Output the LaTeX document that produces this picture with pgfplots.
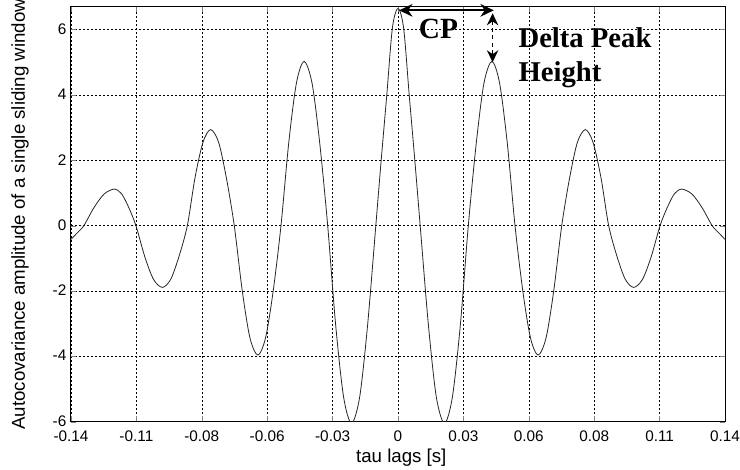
\documentclass[border=0pt]{standalone}
\usepackage{pgfplots}
\pgfplotsset{compat=1.18}
\usepackage{fontspec}
\setmainfont{Liberation Sans}
\newfontfamily\timesfont{Liberation Serif}
\usetikzlibrary{arrows.meta}

\begin{document}
\begin{tikzpicture}
\begin{axis}[
  at={(0,0)}, anchor=south west,
  scale only axis,
  width=490.5pt, height=311.25pt,
  xmin=-0.14, xmax=0.14,
  ymin=-6, ymax=6.7,
  xtick={-0.14,-0.112,-0.084,-0.056,-0.028,0,0.028,0.056,0.084,0.112,0.14},
  xticklabels={-0.14,-0.11,-0.08,-0.06,-0.03,0,0.03,0.06,0.08,0.11,0.14},
  ytick={-6,-4,-2,0,2,4,6},
  /pgf/number format/assume math mode=true,
  tick label style={font=\fontsize{11.5}{13}\selectfont},
  xticklabel style={yshift=-3pt},
  yticklabel style={yshift=0.5pt},
  tick align=inside,
  major tick length=4pt,
  axis line style={line width=0.75pt},
  grid=major,
  major grid style={black, line width=0.45pt, dash pattern=on 1.2pt off 1.8pt},
  xlabel={tau lags [s]},
  ylabel={Autocovariance amplitude of a single sliding window},
  label style={font=\fontsize{14}{16}\selectfont},
  xlabel style={at={(axis description cs:0.505,-0.087)}, anchor=center},
  ylabel style={at={(axis description cs:-0.078,0.5)}, anchor=center},
  clip mode=individual,
]
\addplot[black!85, line width=0.6pt, smooth] coordinates {
(-0.1400,-0.42) (-0.1372,-0.21) (-0.1345,0.00) (-0.1301,0.56) (-0.1258,0.97)
(-0.1214,1.12) (-0.1183,0.97) (-0.1153,0.56) (-0.1122,0.00)
(-0.1084,-0.95) (-0.1047,-1.64) (-0.1009,-1.89) (-0.0973,-1.64) (-0.0938,-0.95)
(-0.0902,0.00) (-0.0869,1.47) (-0.0835,2.55) (-0.0802,2.94) (-0.0768,2.55)
(-0.0735,1.47) (-0.0701,0.00) (-0.0667,-1.98) (-0.0634,-3.43) (-0.0600,-3.96)
(-0.0567,-3.43) (-0.0534,-1.98) (-0.0501,0.00) (-0.0468,2.52) (-0.0435,4.36)
(-0.0402,5.03) (-0.0368,4.36) (-0.0335,2.52) (-0.0301,0.00) (-0.0267,-3.03)
(-0.0233,-5.24) (-0.0199,-6.05) (-0.0164,-5.24) (-0.0130,-3.03) (-0.0095,0.00)
(-0.0072,2.00) (-0.0048,4.00) (-0.0024,6.05)
(0.0000,6.65)
(0.0024,6.05) (0.0048,4.00) (0.0072,2.00) (0.0095,0.00)
(0.0130,-3.03) (0.0164,-5.24) (0.0199,-6.05) (0.0233,-5.24) (0.0267,-3.03)
(0.0301,0.00) (0.0335,2.52) (0.0368,4.36) (0.0402,5.03) (0.0435,4.36)
(0.0468,2.52) (0.0501,0.00) (0.0534,-1.98) (0.0567,-3.43) (0.0600,-3.96)
(0.0634,-3.43) (0.0667,-1.98) (0.0701,0.00) (0.0735,1.47) (0.0768,2.55)
(0.0802,2.94) (0.0835,2.55) (0.0869,1.47) (0.0902,0.00) (0.0938,-0.95)
(0.0973,-1.64) (0.1009,-1.89) (0.1047,-1.64) (0.1084,-0.95) (0.1122,0.00)
(0.1153,0.56) (0.1183,0.97) (0.1214,1.12) (0.1258,0.97) (0.1301,0.56)
(0.1345,0.00) (0.1372,-0.21) (0.1400,-0.42)
};
% annotations
\draw[line width=1.4pt, {Stealth[length=10pt,width=9.5pt]}-{Stealth[length=10pt,width=9.5pt]}]
  (axis cs:0.0005,6.59) -- (axis cs:0.0410,6.59);
\draw[line width=1.2pt, dash pattern=on 3pt off 2.5pt,
  {Stealth[length=9pt,width=8.5pt]}-{Stealth[length=9pt,width=8.5pt]}]
  (axis cs:0.0405,6.5) -- (axis cs:0.0405,5.0);
\node[anchor=base, inner sep=0pt, font=\timesfont\bfseries\fontsize{22}{24}\selectfont]
  at (axis cs:0.0173,5.72) {CP};
\node[anchor=north west, inner sep=0pt, align=left,
  font=\timesfont\bfseries\fontsize{21.5}{25.5}\selectfont]
  at (axis cs:0.0515,6.08) {Delta Peak\\Height};
\end{axis}
\pgfresetboundingbox
\path (-53.25pt,-36.2pt) rectangle (501.75pt,316.3pt);
\end{tikzpicture}
\end{document}
